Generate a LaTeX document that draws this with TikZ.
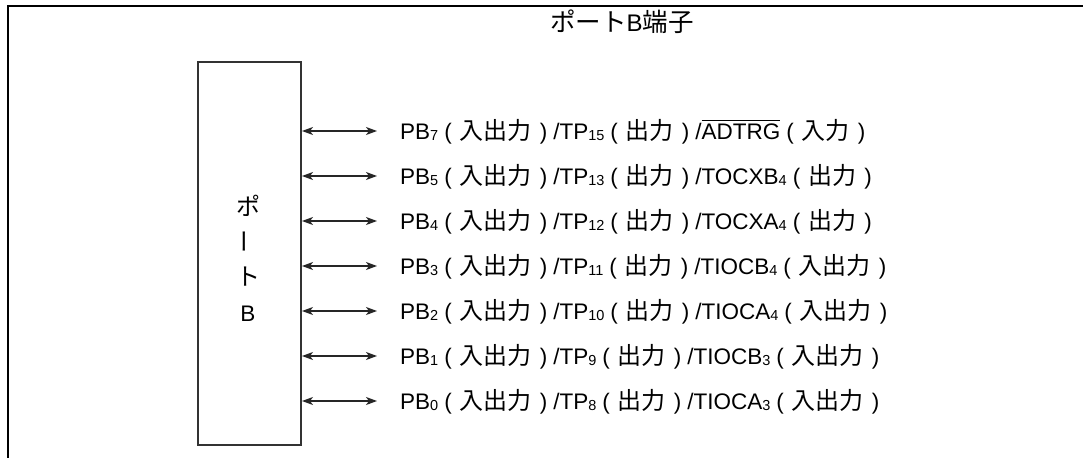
\documentclass[tikz,border=0pt]{standalone}
\usepackage{fontspec}
\setmainfont{Liberation Sans}
\newfontfamily\jp{Noto Sans CJK JP}
\usetikzlibrary{arrows.meta}
\newcommand\jpart[1]{{\jp\fontsize{24}{25}\selectfont #1}}
\newcommand\jtitle[1]{{\jp\fontsize{25.5}{27}\selectfont #1}}
\newcommand\jgrp[1]{\hspace{6pt}(\hspace{8pt}\jpart{#1}\hspace{8pt})\hspace{6pt}}
\newcommand\pIO{\jgrp{入出力}}
\newcommand\pOut{\jgrp{出力}}
\newcommand\pIn{\jgrp{入力}}
\newcommand\sbs[1]{\raisebox{-1pt}{\fontsize{14.5}{14.5}\selectfont #1}}
\newcommand\ovl[1]{\setbox0\hbox{#1}\rlap{\raisebox{\dimexpr\ht0+2.4pt\relax}{\rule{\wd0}{1pt}}}\box0}
\tikzset{
  frameline/.style={line width=2.6pt, line join=miter},
  portbox/.style={draw=black!80, line width=2pt, minimum width=103pt, minimum height=383pt, inner sep=0pt},
  rowlabel/.style={anchor=west, inner sep=0pt, text height=16pt, text depth=0pt, font=\fontsize{22.5}{24}\selectfont},
  portchar/.style={inner sep=0pt, font=\fontsize{22.5}{24}\selectfont},
  bidir/.style={{Stealth[length=11pt,width=8pt,inset=3pt]}-{Stealth[length=11pt,width=8pt,inset=3pt]}, line width=1.1pt, draw=black!85},
}
\begin{document}
\begin{tikzpicture}[x=1pt,y=-1pt]
\useasboundingbox (0,0) rectangle (1088,458);
\draw[frameline] (8,460) -- (8,6) -- (1083,6);
\node[portchar, font=\fontsize{24}{27}\selectfont] (title) at (622,22) {\jtitle{ポート}B\jtitle{端子}};
\node[portbox] (box) at (249.5,253.5) {};
\node[portchar] (p1) at (248,206) {\jpart{ポ}};
\node[portchar, rotate=90] (p2) at (248,241) {\jpart{ー}};
\node[portchar] (p3) at (248,277) {\jpart{ト}};
\node[portchar] (p4) at (248,314) {B};
\node[rowlabel] (r7) at (400,131) {PB\sbs{7}\pIO/TP\sbs{15}\pOut/\ovl{ADTRG}\pIn};
\node[rowlabel] (r5) at (400,176) {PB\sbs{5}\pIO/TP\sbs{13}\pOut/TOCXB\sbs{4}\pOut};
\node[rowlabel] (r4) at (400,221) {PB\sbs{4}\pIO/TP\sbs{12}\pOut/TOCXA\sbs{4}\pOut};
\node[rowlabel] (r3) at (400,266) {PB\sbs{3}\pIO/TP\sbs{11}\pOut/TIOCB\sbs{4}\pIO};
\node[rowlabel] (r2) at (400,311) {PB\sbs{2}\pIO/TP\sbs{10}\pOut/TIOCA\sbs{4}\pIO};
\node[rowlabel] (r1) at (400,356) {PB\sbs{1}\pIO/TP\sbs{9}\pOut/TIOCB\sbs{3}\pIO};
\node[rowlabel] (r0) at (400,401) {PB\sbs{0}\pIO/TP\sbs{8}\pOut/TIOCA\sbs{3}\pIO};
\foreach \r in {7,5,4,3,2,1,0}{
  \coordinate (a\r) at ([xshift=-23pt]r\r.west);
  \draw[bidir] (box.east |- a\r) -- (a\r);
}
\end{tikzpicture}
\end{document}
